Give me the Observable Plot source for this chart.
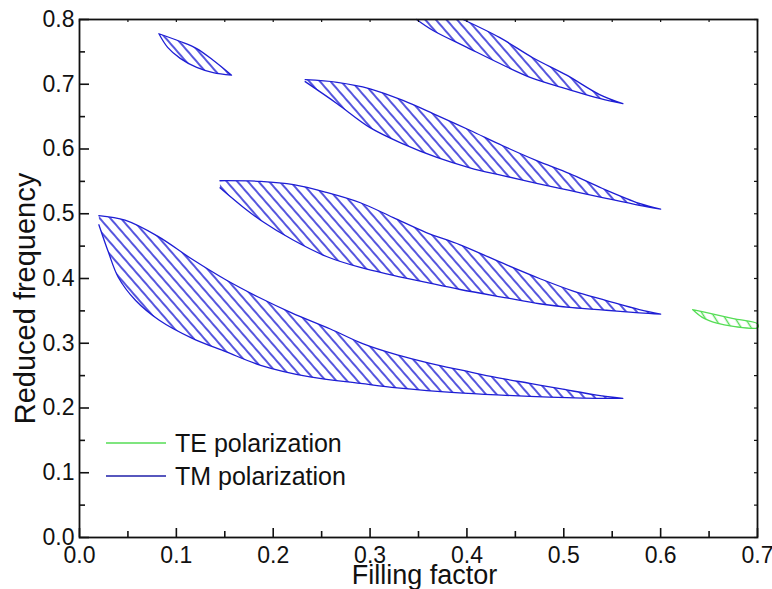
<!DOCTYPE html>
<html>
<head>
<meta charset="utf-8">
<script src="https://cdn.jsdelivr.net/npm/d3@7"></script>
<script src="https://cdn.jsdelivr.net/npm/@observablehq/plot@0.6"></script>
<style>
  body { margin: 0; background: #fff; }
  #chart svg { display: block; }
</style>
</head>
<body>
<div id="chart"></div>
<script>
// Axis ticks
const xTicks = [0, 0.1, 0.2, 0.3, 0.4, 0.5, 0.6, 0.7];
const xMinorTicks = [0.05, 0.15, 0.25, 0.35, 0.45, 0.55, 0.65];
const yTicks = [0, 0.1, 0.2, 0.3, 0.4, 0.5, 0.6, 0.7, 0.8];
const yMinorTicks = [0.05, 0.15, 0.25, 0.35, 0.45, 0.55, 0.65, 0.75];

// TM band gaps: upper and lower edges as [filling factor, reduced frequency]
const tmGap1Upper = [[0.020,0.497],[0.047,0.490],[0.081,0.465],[0.116,0.430],[0.151,0.398],[0.185,0.371],[0.219,0.347],[0.259,0.322],[0.293,0.299],[0.328,0.282],[0.362,0.269],[0.396,0.258],[0.431,0.247],[0.465,0.238],[0.499,0.229],[0.534,0.220],[0.561,0.215]];
const tmGap1Lower = [[0.020,0.483],[0.030,0.440],[0.040,0.402],[0.058,0.366],[0.082,0.336],[0.116,0.308],[0.151,0.287],[0.187,0.266],[0.238,0.248],[0.290,0.238],[0.328,0.231],[0.396,0.223],[0.465,0.218],[0.534,0.215],[0.561,0.215]];

const tmGap2Upper = [[0.145,0.551],[0.187,0.550],[0.221,0.545],[0.255,0.533],[0.290,0.517],[0.324,0.494],[0.358,0.471],[0.393,0.452],[0.441,0.421],[0.475,0.400],[0.509,0.381],[0.544,0.366],[0.578,0.352],[0.600,0.345]];
const tmGap2Lower = [[0.145,0.540],[0.169,0.510],[0.187,0.490],[0.221,0.459],[0.255,0.434],[0.290,0.417],[0.324,0.405],[0.358,0.394],[0.393,0.383],[0.441,0.370],[0.475,0.361],[0.509,0.355],[0.544,0.351],[0.578,0.347],[0.600,0.345]];

const tmGap3Upper = [[0.233,0.707],[0.266,0.703],[0.300,0.693],[0.334,0.675],[0.369,0.652],[0.403,0.629],[0.437,0.605],[0.472,0.582],[0.506,0.562],[0.540,0.539],[0.578,0.516],[0.600,0.507]];
const tmGap3Lower = [[0.233,0.704],[0.266,0.670],[0.300,0.633],[0.334,0.608],[0.369,0.587],[0.403,0.571],[0.437,0.559],[0.472,0.547],[0.506,0.536],[0.540,0.525],[0.578,0.513],[0.600,0.507]];

const tmGap4Upper = [[0.396,0.800],[0.434,0.772],[0.468,0.741],[0.503,0.714],[0.537,0.684],[0.561,0.670]];
const tmGap4Lower = [[0.348,0.800],[0.365,0.783],[0.400,0.757],[0.434,0.732],[0.468,0.709],[0.503,0.693],[0.537,0.678],[0.561,0.670]];

const tmGap5Upper = [[0.082,0.778],[0.104,0.766],[0.121,0.755],[0.138,0.737],[0.157,0.714]];
const tmGap5Lower = [[0.082,0.778],[0.091,0.757],[0.104,0.740],[0.121,0.726],[0.138,0.718],[0.157,0.714]];

// TE band gap
const teGap1Upper = [[0.633,0.352],[0.651,0.346],[0.675,0.338],[0.700,0.330]];
const teGap1Lower = [[0.633,0.352],[0.643,0.340],[0.658,0.331],[0.675,0.326],[0.700,0.324]];

const legendLabels = ["TE polarization", "TM polarization"];

const tmColor = "#1d1dd4";
const teColor = "#55dd55";

// Close each gap into a polygon: upper edge left to right, lower edge back
function polygon(name, upper, lower) {
  return [...upper, ...lower.slice().reverse()].map(([x, y]) => ({gap: name, x, y}));
}

const tmRows = [
  ...polygon("tm1", tmGap1Upper, tmGap1Lower),
  ...polygon("tm2", tmGap2Upper, tmGap2Lower),
  ...polygon("tm3", tmGap3Upper, tmGap3Lower),
  ...polygon("tm4", tmGap4Upper, tmGap4Lower),
  ...polygon("tm5", tmGap5Upper, tmGap5Lower)
];
const teRows = polygon("te1", teGap1Upper, teGap1Lower);

const W = 772, H = 589;
const mL = 79, mR = 15, mT = 19, mB = 52;
const fw = W - mL - mR, fh = H - mT - mB;
const font = "'Liberation Sans', Arial, Helvetica, sans-serif";

const chart = Plot.plot({
  width: W,
  height: H,
  marginLeft: mL,
  marginRight: mR,
  marginTop: mT,
  marginBottom: mB,
  x: {domain: [0, 0.7], axis: null},
  y: {domain: [0, 0.8], axis: null},
  style: {fontFamily: font, background: "#fff", color: "#111"},
  marks: [
    Plot.line(tmRows, {x: "x", y: "y", z: "gap", fill: "url(#hatch-tm)", stroke: tmColor, strokeWidth: 1.3, curve: "catmull-rom"}),
    Plot.line(teRows, {x: "x", y: "y", z: "gap", fill: "url(#hatch-te)", stroke: teColor, strokeWidth: 1.3, curve: "catmull-rom"}),
    Plot.frame({stroke: "#111", strokeWidth: 1.8}),
    // inward ticks: bottom and left (long), top and right (short)
    Plot.tickX(xTicks, {x: d => d, insetTop: fh - 9, stroke: "#111", strokeWidth: 1.6}),
    Plot.tickX(xMinorTicks, {x: d => d, insetTop: fh - 6, stroke: "#111", strokeWidth: 1.6}),
    Plot.tickY(yTicks, {y: d => d, insetRight: fw - 10, stroke: "#111", strokeWidth: 1.6}),
    Plot.tickY(yMinorTicks, {y: d => d, insetRight: fw - 6, stroke: "#111", strokeWidth: 1.6}),
    Plot.tickX([...xTicks, ...xMinorTicks], {x: d => d, insetBottom: fh - 3, stroke: "#111", strokeWidth: 1.2}),
    Plot.tickY([...yTicks, ...yMinorTicks], {y: d => d, insetLeft: fw - 3, stroke: "#111", strokeWidth: 1.2}),
    // tick labels
    Plot.text(xTicks, {x: d => d, frameAnchor: "bottom", lineAnchor: "top", dy: 9, text: d => d.toFixed(1), fontSize: 23, fill: "#111"}),
    Plot.text(yTicks, {y: d => d, frameAnchor: "left", textAnchor: "end", dx: -5, text: d => d.toFixed(1), fontSize: 23, fill: "#111"}),
    // axis titles
    Plot.text(["Filling factor"], {frameAnchor: "bottom", lineAnchor: "bottom", dx: 6, dy: 46, text: d => d, fontSize: 27, fill: "#111"}),
    Plot.text(["Reduced frequency"], {frameAnchor: "left", textAnchor: "middle", lineAnchor: "bottom", rotate: -90, dx: -45, dy: 20, text: d => d, fontSize: 29, fill: "#111"})
  ]
});

// Hatch patterns used by the gap fills
const svg = d3.select(chart);
const defs = svg.insert("defs", ":first-child");
function hatch(id, color, angle, gap, width) {
  const p = defs.append("pattern")
    .attr("id", id)
    .attr("patternUnits", "userSpaceOnUse")
    .attr("width", 10)
    .attr("height", gap)
    .attr("patternTransform", `rotate(${angle})`);
  p.append("rect").attr("width", 10).attr("height", gap).attr("fill", "#fff");
  p.append("line")
    .attr("x1", 0).attr("x2", 10)
    .attr("y1", gap / 2).attr("y2", gap / 2)
    .attr("stroke", color).attr("stroke-width", width);
}
hatch("hatch-tm", tmColor, 49, 8, 1.5);
hatch("hatch-te", teColor, 58, 8.5, 1.4);

// Legend inside the frame
const legend = svg.append("g")
  .attr("font-family", font)
  .attr("font-size", 25)
  .attr("text-anchor", "start")
  .attr("fill", "#111");
const legendColors = [teColor, "#1f1fa8"];
legendLabels.forEach((label, i) => {
  const y = 443 + i * 33;
  legend.append("line").attr("x1", 106).attr("x2", 166).attr("y1", y).attr("y2", y)
    .attr("stroke", legendColors[i]).attr("stroke-width", 1.6);
  legend.append("text").attr("x", 175).attr("y", y).attr("dy", "0.35em").text(label);
});

document.getElementById("chart").appendChild(chart);
</script>
</body>
</html>
